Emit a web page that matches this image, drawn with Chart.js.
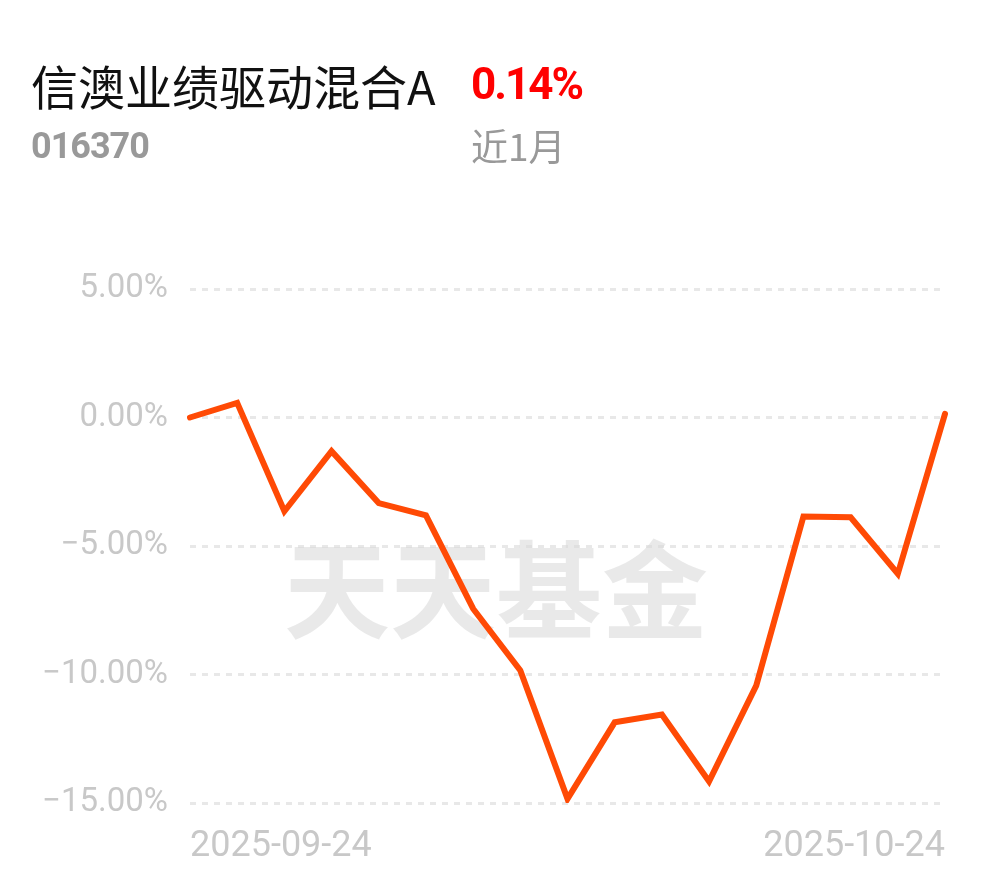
<!DOCTYPE html>
<html>
<head>
<meta charset="utf-8">
<script src="https://cdn.jsdelivr.net/npm/chart.js@4.4.1/dist/chart.umd.min.js"></script>
<style>
	body { margin: 0; background: #fff; }
	#page { position: relative; width: 990px; height: 878px; overflow: hidden; }
	#page canvas { position: absolute; left: 0; top: 0; }
	.txt { position: absolute; white-space: nowrap; line-height: 1; }
	#name { left: 31px; top: 50px; font: 47px "Noto Sans CJK SC", sans-serif; color: #111; }
	#rate { left: 471px; top: 58px; font: bold 44px Roboto, sans-serif; color: #f00; letter-spacing: -2px; }
	#code { left: 31px; top: 125px; font: bold 36px Roboto, sans-serif; color: #999; letter-spacing: -1px; }
	#period { left: 471px; top: 118px; font: 37px "Noto Sans CJK SC", sans-serif; color: #999; }
</style>
</head>
<body>
<div id="page">
	<canvas id="fund-chart" width="990" height="878"></canvas>
	<div class="txt" id="name">信澳业绩驱动混合A</div>
	<div class="txt" id="rate">0.14%</div>
	<div class="txt" id="code">016370</div>
	<div class="txt" id="period">近1月</div>
</div>
<script>
var dates = ['2025-09-24', '2025-09-25', '2025-09-26', '2025-09-29', '2025-09-30', '2025-10-09', '2025-10-10', '2025-10-13', '2025-10-14', '2025-10-15', '2025-10-16', '2025-10-17', '2025-10-20', '2025-10-21', '2025-10-22', '2025-10-23', '2025-10-24'];
var returns = [0, 0.57, -3.65, -1.31, -3.33, -3.81, -7.44, -9.84, -14.84, -11.86, -11.56, -14.16, -10.43, -3.85, -3.88, -6.08, 0.14];
var yTicks = [5, 0, -5, -10, -15];

var lineColor = '#ff4a05';
var tickColor = '#c8c8c8';

/* watermark behind the line */
var watermark = {
	id: 'watermark',
	beforeDatasetsDraw: function(chart) {
		var ctx = chart.ctx;
		ctx.save();
		ctx.font = 'bold 106px "Noto Sans CJK SC", sans-serif';
		ctx.fillStyle = 'rgba(215, 215, 215, 0.55)';
		ctx.textAlign = 'center';
		ctx.textBaseline = 'middle';
		ctx.fillText('天天基金', 496, 590);
		ctx.restore();
	}
};

var context = document.getElementById('fund-chart').getContext('2d');
var chart = new Chart(context, {
	type: 'line',
	data: {
		labels: dates,
		datasets: [{ data: returns, borderColor: lineColor, borderWidth: 6, pointRadius: 0, tension: 0, fill: false, borderJoinStyle: 'miter', borderCapStyle: 'round' }]
	},
	options: {
		responsive: false,
		animation: false,
		devicePixelRatio: 1,
		layout: { padding: { top: 289, right: 45, left: 0, bottom: 0 } },
		plugins: { legend: { display: false }, tooltip: { enabled: false } },
		scales: {
			x: {
				offset: false,
				grid: { display: false, drawTicks: false },
				border: { display: false },
				afterFit: function(scale) { scale.height = 75; },
				ticks: {
					autoSkip: false, maxRotation: 0, align: 'inner', padding: 22,
					color: tickColor, font: { family: 'Roboto', size: 36 },
					callback: function(value, index) {
						if (index == 0 || index == dates.length - 1) {
							return dates[index];
						}
						return '';
					}
				}
			},
			y: {
				min: -15, max: 5,
				afterFit: function(scale) { scale.width = 190; },
				afterBuildTicks: function(scale) { scale.ticks = yTicks.map(function(v) { return { value: v }; }); },
				grid: { color: '#e8e8e8', lineWidth: 3, drawTicks: false },
				border: { display: false, dash: [6, 6] },
				ticks: {
					padding: 22, color: tickColor, font: { family: 'Roboto', size: 33 },
					callback: function(value) { return value.toFixed(2).replace('-', '\u2212') + '%'; }
				}
			}
		}
	},
	plugins: [watermark]
});
</script>
</body>
</html>
